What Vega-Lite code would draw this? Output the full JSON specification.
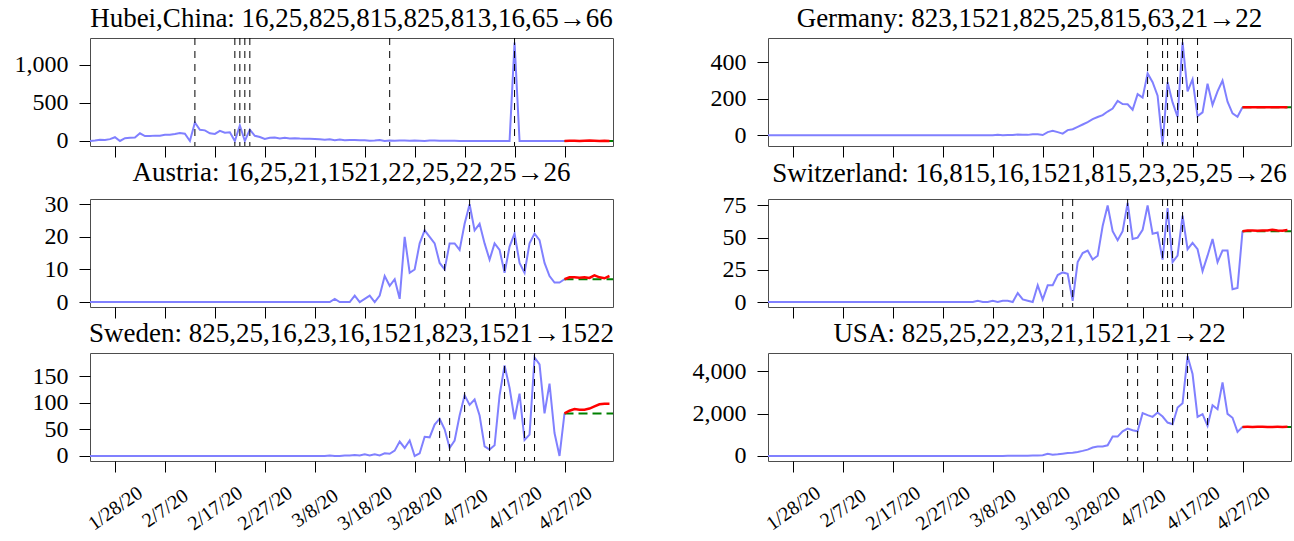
{
"$schema": "https://vega.github.io/schema/vega-lite/v6.json",
"padding": {"left": 13, "top": 4, "right": 5, "bottom": 5},
"background": "white",
"columns": 2,
"spacing": {"row": 0, "column": 76},
"config": {
  "font": "Liberation Serif",
  "view": {"stroke": "#4d4d4d", "strokeWidth": 1},
  "axis": {"domain": false, "grid": false, "labelFont": "Liberation Serif", "labelFontSize": 24, "labelColor": "black", "tickColor": "black", "tickWidth": 1, "labelOverlap": false, "labelFlush": false, "labelBound": false},
  "title": {"font": "Liberation Serif", "fontSize": 27, "fontWeight": "normal", "color": "black", "offset": 5}
},
"datasets": {
"daily": [
{"date":"2020-01-23","Hubei":0,"Germany":0,"Austria":0,"Switzerland":0,"Sweden":0,"USA":0},
{"date":"2020-01-24","Hubei":7,"Germany":0,"Austria":0,"Switzerland":0,"Sweden":0,"USA":0},
{"date":"2020-01-25","Hubei":16,"Germany":0,"Austria":0,"Switzerland":0,"Sweden":0,"USA":0},
{"date":"2020-01-26","Hubei":12,"Germany":0,"Austria":0,"Switzerland":0,"Sweden":0,"USA":0},
{"date":"2020-01-27","Hubei":24,"Germany":0,"Austria":0,"Switzerland":0,"Sweden":0,"USA":0},
{"date":"2020-01-28","Hubei":49,"Germany":0,"Austria":0,"Switzerland":0,"Sweden":0,"USA":0},
{"date":"2020-01-29","Hubei":0,"Germany":0,"Austria":0,"Switzerland":0,"Sweden":0,"USA":0},
{"date":"2020-01-30","Hubei":37,"Germany":0,"Austria":0,"Switzerland":0,"Sweden":0,"USA":0},
{"date":"2020-01-31","Hubei":42,"Germany":0,"Austria":0,"Switzerland":0,"Sweden":0,"USA":0},
{"date":"2020-02-01","Hubei":45,"Germany":0,"Austria":0,"Switzerland":0,"Sweden":0,"USA":0},
{"date":"2020-02-02","Hubei":101,"Germany":0,"Austria":0,"Switzerland":0,"Sweden":0,"USA":0},
{"date":"2020-02-03","Hubei":64,"Germany":0,"Austria":0,"Switzerland":0,"Sweden":0,"USA":0},
{"date":"2020-02-04","Hubei":65,"Germany":0,"Austria":0,"Switzerland":0,"Sweden":0,"USA":0},
{"date":"2020-02-05","Hubei":70,"Germany":0,"Austria":0,"Switzerland":0,"Sweden":0,"USA":0},
{"date":"2020-02-06","Hubei":69,"Germany":0,"Austria":0,"Switzerland":0,"Sweden":0,"USA":0},
{"date":"2020-02-07","Hubei":81,"Germany":0,"Austria":0,"Switzerland":0,"Sweden":0,"USA":0},
{"date":"2020-02-08","Hubei":81,"Germany":0,"Austria":0,"Switzerland":0,"Sweden":0,"USA":0},
{"date":"2020-02-09","Hubei":91,"Germany":0,"Austria":0,"Switzerland":0,"Sweden":0,"USA":0},
{"date":"2020-02-10","Hubei":103,"Germany":0,"Austria":0,"Switzerland":0,"Sweden":0,"USA":0},
{"date":"2020-02-11","Hubei":94,"Germany":0,"Austria":0,"Switzerland":0,"Sweden":0,"USA":0},
{"date":"2020-02-12","Hubei":0,"Germany":0,"Austria":0,"Switzerland":0,"Sweden":0,"USA":0},
{"date":"2020-02-13","Hubei":242,"Germany":0,"Austria":0,"Switzerland":0,"Sweden":0,"USA":0},
{"date":"2020-02-14","Hubei":147,"Germany":0,"Austria":0,"Switzerland":0,"Sweden":0,"USA":0},
{"date":"2020-02-15","Hubei":139,"Germany":0,"Austria":0,"Switzerland":0,"Sweden":0,"USA":0},
{"date":"2020-02-16","Hubei":100,"Germany":0,"Austria":0,"Switzerland":0,"Sweden":0,"USA":0},
{"date":"2020-02-17","Hubei":93,"Germany":0,"Austria":0,"Switzerland":0,"Sweden":0,"USA":0},
{"date":"2020-02-18","Hubei":132,"Germany":0,"Austria":0,"Switzerland":0,"Sweden":0,"USA":0},
{"date":"2020-02-19","Hubei":108,"Germany":0,"Austria":0,"Switzerland":0,"Sweden":0,"USA":0},
{"date":"2020-02-20","Hubei":115,"Germany":0,"Austria":0,"Switzerland":0,"Sweden":0,"USA":0},
{"date":"2020-02-21","Hubei":0,"Germany":0,"Austria":0,"Switzerland":0,"Sweden":0,"USA":0},
{"date":"2020-02-22","Hubei":202,"Germany":0,"Austria":0,"Switzerland":0,"Sweden":0,"USA":0},
{"date":"2020-02-23","Hubei":0,"Germany":0,"Austria":0,"Switzerland":0,"Sweden":0,"USA":0},
{"date":"2020-02-24","Hubei":149,"Germany":0,"Austria":0,"Switzerland":0,"Sweden":0,"USA":0},
{"date":"2020-02-25","Hubei":68,"Germany":0,"Austria":0,"Switzerland":0,"Sweden":0,"USA":0},
{"date":"2020-02-26","Hubei":52,"Germany":0,"Austria":0,"Switzerland":0,"Sweden":0,"USA":0},
{"date":"2020-02-27","Hubei":26,"Germany":0,"Austria":0,"Switzerland":0,"Sweden":0,"USA":0},
{"date":"2020-02-28","Hubei":41,"Germany":0,"Austria":0,"Switzerland":0,"Sweden":0,"USA":0},
{"date":"2020-02-29","Hubei":45,"Germany":0,"Austria":0,"Switzerland":0,"Sweden":0,"USA":1},
{"date":"2020-03-01","Hubei":34,"Germany":0,"Austria":0,"Switzerland":0,"Sweden":0,"USA":1},
{"date":"2020-03-02","Hubei":42,"Germany":0,"Austria":0,"Switzerland":0,"Sweden":0,"USA":4},
{"date":"2020-03-03","Hubei":32,"Germany":0,"Austria":0,"Switzerland":0,"Sweden":0,"USA":3},
{"date":"2020-03-04","Hubei":36,"Germany":0,"Austria":0,"Switzerland":0,"Sweden":0,"USA":2},
{"date":"2020-03-05","Hubei":31,"Germany":0,"Austria":0,"Switzerland":1,"Sweden":0,"USA":1},
{"date":"2020-03-06","Hubei":29,"Germany":0,"Austria":0,"Switzerland":0,"Sweden":0,"USA":3},
{"date":"2020-03-07","Hubei":28,"Germany":0,"Austria":0,"Switzerland":0,"Sweden":0,"USA":4},
{"date":"2020-03-08","Hubei":27,"Germany":0,"Austria":0,"Switzerland":1,"Sweden":0,"USA":3},
{"date":"2020-03-09","Hubei":22,"Germany":2,"Austria":0,"Switzerland":0,"Sweden":0,"USA":4},
{"date":"2020-03-10","Hubei":16,"Germany":0,"Austria":0,"Switzerland":1,"Sweden":0,"USA":5},
{"date":"2020-03-11","Hubei":22,"Germany":1,"Austria":0,"Switzerland":1,"Sweden":1,"USA":8},
{"date":"2020-03-12","Hubei":10,"Germany":1,"Austria":1,"Switzerland":0,"Sweden":0,"USA":7},
{"date":"2020-03-13","Hubei":19,"Germany":4,"Austria":0,"Switzerland":7,"Sweden":0,"USA":10},
{"date":"2020-03-14","Hubei":10,"Germany":2,"Austria":0,"Switzerland":2,"Sweden":1,"USA":12},
{"date":"2020-03-15","Hubei":14,"Germany":2,"Austria":0,"Switzerland":1,"Sweden":1,"USA":11},
{"date":"2020-03-16","Hubei":12,"Germany":5,"Austria":2,"Switzerland":0,"Sweden":2,"USA":25},
{"date":"2020-03-17","Hubei":11,"Germany":5,"Austria":0,"Switzerland":13,"Sweden":1,"USA":23},
{"date":"2020-03-18","Hubei":8,"Germany":1,"Austria":1,"Switzerland":2,"Sweden":3,"USA":35},
{"date":"2020-03-19","Hubei":3,"Germany":17,"Austria":2,"Switzerland":13,"Sweden":1,"USA":100},
{"date":"2020-03-20","Hubei":6,"Germany":24,"Austria":0,"Switzerland":13,"Sweden":3,"USA":60},
{"date":"2020-03-21","Hubei":14,"Germany":17,"Austria":2,"Switzerland":21,"Sweden":1,"USA":80},
{"date":"2020-03-22","Hubei":0,"Germany":9,"Austria":8,"Switzerland":23,"Sweden":5,"USA":110},
{"date":"2020-03-23","Hubei":7,"Germany":28,"Austria":5,"Switzerland":22,"Sweden":4,"USA":140},
{"date":"2020-03-24","Hubei":3,"Germany":33,"Austria":7,"Switzerland":1,"Sweden":10,"USA":150},
{"date":"2020-03-25","Hubei":6,"Germany":46,"Austria":1,"Switzerland":31,"Sweden":27,"USA":190},
{"date":"2020-03-26","Hubei":5,"Germany":59,"Austria":20,"Switzerland":38,"Sweden":15,"USA":240},
{"date":"2020-03-27","Hubei":3,"Germany":72,"Austria":9,"Switzerland":40,"Sweden":29,"USA":300},
{"date":"2020-03-28","Hubei":5,"Germany":88,"Austria":10,"Switzerland":33,"Sweden":0,"USA":400},
{"date":"2020-03-29","Hubei":4,"Germany":100,"Austria":18,"Switzerland":36,"Sweden":5,"USA":450},
{"date":"2020-03-30","Hubei":1,"Germany":110,"Austria":22,"Switzerland":59,"Sweden":36,"USA":450},
{"date":"2020-03-31","Hubei":6,"Germany":130,"Austria":20,"Switzerland":75,"Sweden":35,"USA":504},
{"date":"2020-04-01","Hubei":6,"Germany":146,"Austria":18,"Switzerland":55,"Sweden":59,"USA":913},
{"date":"2020-04-02","Hubei":4,"Germany":188,"Austria":12,"Switzerland":48,"Sweden":70,"USA":913},
{"date":"2020-04-03","Hubei":4,"Germany":171,"Austria":10,"Switzerland":55,"Sweden":50,"USA":1165},
{"date":"2020-04-04","Hubei":3,"Germany":170,"Austria":18,"Switzerland":77,"Sweden":15,"USA":1291},
{"date":"2020-04-05","Hubei":2,"Germany":140,"Austria":18,"Switzerland":49,"Sweden":29,"USA":1213},
{"date":"2020-04-06","Hubei":0,"Germany":225,"Austria":16,"Switzerland":50,"Sweden":76,"USA":1165},
{"date":"2020-04-07","Hubei":0,"Germany":206,"Austria":24,"Switzerland":56,"Sweden":114,"USA":2016},
{"date":"2020-04-08","Hubei":0,"Germany":339,"Austria":30,"Switzerland":75,"Sweden":96,"USA":1922},
{"date":"2020-04-09","Hubei":1,"Germany":291,"Austria":22,"Switzerland":53,"Sweden":106,"USA":1843},
{"date":"2020-04-10","Hubei":1,"Germany":217,"Austria":24,"Switzerland":54,"Sweden":76,"USA":2047},
{"date":"2020-04-11","Hubei":1,"Germany":-50,"Austria":18,"Switzerland":33,"Sweden":18,"USA":1858},
{"date":"2020-04-12","Hubei":1,"Germany":291,"Austria":13,"Switzerland":73,"Sweden":12,"USA":1575},
{"date":"2020-04-13","Hubei":1,"Germany":180,"Austria":18,"Switzerland":31,"Sweden":20,"USA":1496},
{"date":"2020-04-14","Hubei":1,"Germany":101,"Austria":16,"Switzerland":36,"Sweden":114,"USA":2283},
{"date":"2020-04-15","Hubei":0,"Germany":509,"Austria":9,"Switzerland":67,"Sweden":170,"USA":2488},
{"date":"2020-04-16","Hubei":1,"Germany":240,"Austria":17,"Switzerland":41,"Sweden":128,"USA":4700},
{"date":"2020-04-17","Hubei":1290,"Germany":306,"Austria":21,"Switzerland":46,"Sweden":69,"USA":3858},
{"date":"2020-04-18","Hubei":0,"Germany":105,"Austria":12,"Switzerland":41,"Sweden":117,"USA":1843},
{"date":"2020-04-19","Hubei":0,"Germany":125,"Austria":9,"Switzerland":24,"Sweden":30,"USA":1969},
{"date":"2020-04-20","Hubei":0,"Germany":282,"Austria":18,"Switzerland":36,"Sweden":40,"USA":1417},
{"date":"2020-04-21","Hubei":0,"Germany":166,"Austria":21,"Switzerland":49,"Sweden":185,"USA":2394},
{"date":"2020-04-22","Hubei":0,"Germany":240,"Austria":19,"Switzerland":31,"Sweden":172,"USA":2205},
{"date":"2020-04-23","Hubei":0,"Germany":300,"Austria":12,"Switzerland":40,"Sweden":80,"USA":3465},
{"date":"2020-04-24","Hubei":0,"Germany":184,"Austria":8,"Switzerland":40,"Sweden":136,"USA":1985},
{"date":"2020-04-25","Hubei":0,"Germany":120,"Austria":6,"Switzerland":10,"Sweden":43,"USA":1800},
{"date":"2020-04-26","Hubei":0,"Germany":101,"Austria":6,"Switzerland":11,"Sweden":0,"USA":1134},
{"date":"2020-04-27","Hubei":0,"Germany":153,"Austria":7,"Switzerland":55,"Sweden":80,"USA":1370}
],
"forecast": [
{"date":"2020-04-27","Hubei":0,"Germany":153,"Austria":7,"Switzerland":55,"Sweden":80,"USA":1370},
{"date":"2020-04-28","Hubei":2,"Germany":154,"Austria":7.6,"Switzerland":55.5,"Sweden":85,"USA":1372},
{"date":"2020-04-29","Hubei":2,"Germany":154,"Austria":7.6,"Switzerland":55.6,"Sweden":88,"USA":1371},
{"date":"2020-04-30","Hubei":1,"Germany":153,"Austria":7.5,"Switzerland":55.3,"Sweden":87,"USA":1373},
{"date":"2020-05-01","Hubei":3,"Germany":154,"Austria":7.6,"Switzerland":55.5,"Sweden":87,"USA":1372},
{"date":"2020-05-02","Hubei":5,"Germany":153,"Austria":7.4,"Switzerland":55.6,"Sweden":89,"USA":1370},
{"date":"2020-05-03","Hubei":3,"Germany":154,"Austria":8.2,"Switzerland":56.2,"Sweden":93,"USA":1371},
{"date":"2020-05-04","Hubei":1,"Germany":154,"Austria":7.6,"Switzerland":55.5,"Sweden":97,"USA":1372},
{"date":"2020-05-05","Hubei":2,"Germany":153,"Austria":7.3,"Switzerland":55.4,"Sweden":98,"USA":1371},
{"date":"2020-05-06","Hubei":1,"Germany":154,"Austria":8.0,"Switzerland":56,"Sweden":98,"USA":1372}
],
"base": [
{"country":"Hubei","date":"2020-04-27","end":"2020-05-08","value":0},
{"country":"Germany","date":"2020-04-27","end":"2020-05-08","value":153},
{"country":"Austria","date":"2020-04-27","end":"2020-05-08","value":7},
{"country":"Switzerland","date":"2020-04-27","end":"2020-05-08","value":55},
{"country":"Sweden","date":"2020-04-27","end":"2020-05-08","value":80},
{"country":"USA","date":"2020-04-27","end":"2020-05-08","value":1370}
],
"breaks": [
{"country":"Hubei","date":"2020-02-13"},{"country":"Hubei","date":"2020-02-21"},{"country":"Hubei","date":"2020-02-22"},{"country":"Hubei","date":"2020-02-23"},{"country":"Hubei","date":"2020-02-24"},{"country":"Hubei","date":"2020-03-23"},{"country":"Hubei","date":"2020-04-17"},
{"country":"Germany","date":"2020-04-08"},{"country":"Germany","date":"2020-04-11"},{"country":"Germany","date":"2020-04-12"},{"country":"Germany","date":"2020-04-14"},{"country":"Germany","date":"2020-04-15"},{"country":"Germany","date":"2020-04-18"},
{"country":"Austria","date":"2020-03-30"},{"country":"Austria","date":"2020-04-03"},{"country":"Austria","date":"2020-04-08"},{"country":"Austria","date":"2020-04-15"},{"country":"Austria","date":"2020-04-17"},{"country":"Austria","date":"2020-04-19"},{"country":"Austria","date":"2020-04-21"},
{"country":"Switzerland","date":"2020-03-22"},{"country":"Switzerland","date":"2020-03-24"},{"country":"Switzerland","date":"2020-04-04"},{"country":"Switzerland","date":"2020-04-11"},{"country":"Switzerland","date":"2020-04-12"},{"country":"Switzerland","date":"2020-04-13"},{"country":"Switzerland","date":"2020-04-15"},
{"country":"Sweden","date":"2020-04-02"},{"country":"Sweden","date":"2020-04-04"},{"country":"Sweden","date":"2020-04-07"},{"country":"Sweden","date":"2020-04-12"},{"country":"Sweden","date":"2020-04-15"},{"country":"Sweden","date":"2020-04-19"},{"country":"Sweden","date":"2020-04-21"},
{"country":"USA","date":"2020-04-04"},{"country":"USA","date":"2020-04-06"},{"country":"USA","date":"2020-04-10"},{"country":"USA","date":"2020-04-13"},{"country":"USA","date":"2020-04-16"},{"country":"USA","date":"2020-04-20"}
]
},
"concat": [
{
 "width": 523, "height": 108,
 "title": "Hubei,China: 16,25,825,815,825,813,16,65→66",
 "encoding": {"x": {"field": "date", "type": "temporal", "title": null, "scale": {"type": "utc", "domain": [{"year": 2020, "month": 1, "date": 23, "utc": true}, {"year": 2020, "month": 5, "date": 6, "hours": 17, "utc": true}]}, "axis": {"values": [{"year":2020,"month":1,"date":28,"utc":true},{"year":2020,"month":2,"date":7,"utc":true},{"year":2020,"month":2,"date":17,"utc":true},{"year":2020,"month":2,"date":27,"utc":true},{"year":2020,"month":3,"date":8,"utc":true},{"year":2020,"month":3,"date":18,"utc":true},{"year":2020,"month":3,"date":28,"utc":true},{"year":2020,"month":4,"date":7,"utc":true},{"year":2020,"month":4,"date":17,"utc":true},{"year":2020,"month":4,"date":27,"utc":true}], "labels": false, "tickSize": 11}}},
 "layer": [
  {"data": {"name": "daily"}, "mark": {"type": "line", "color": "#8080ff", "strokeWidth": 2, "clip": true}, "encoding": {"y": {"field": "Hubei", "type": "quantitative", "title": null, "scale": {"domain": [-66, 1350], "nice": false, "zero": false}, "axis": {"values": [0, 500, 1000], "labelExpr": "format(datum.value, ',')", "tickSize": 11, "labelPadding": 11}}}},
  {"data": {"name": "base"}, "transform": [{"filter": {"field": "country", "equal": "Hubei"}}], "mark": {"type": "rule", "color": "#008000", "strokeDash": [9, 5], "strokeWidth": 2, "clip": true}, "encoding": {"x2": {"field": "end"}, "y": {"field": "value", "type": "quantitative", "title": null, "scale": {"domain": [-66, 1350], "nice": false, "zero": false}, "axis": {"values": [0, 500, 1000], "labelExpr": "format(datum.value, ',')", "tickSize": 11, "labelPadding": 11}}}},
  {"data": {"name": "forecast"}, "mark": {"type": "line", "color": "#ff0000", "strokeWidth": 2.5, "clip": true}, "encoding": {"y": {"field": "Hubei", "type": "quantitative", "title": null, "scale": {"domain": [-66, 1350], "nice": false, "zero": false}, "axis": {"values": [0, 500, 1000], "labelExpr": "format(datum.value, ',')", "tickSize": 11, "labelPadding": 11}}}},
  {"data": {"name": "breaks"}, "transform": [{"filter": {"field": "country", "equal": "Hubei"}}], "mark": {"type": "rule", "color": "black", "strokeDash": [7, 6], "strokeWidth": 1}, "encoding": {}}
 ]
},
{
 "width": 523, "height": 108,
 "title": "Germany: 823,1521,825,25,815,63,21→22",
 "encoding": {"x": {"field": "date", "type": "temporal", "title": null, "scale": {"type": "utc", "domain": [{"year": 2020, "month": 1, "date": 23, "utc": true}, {"year": 2020, "month": 5, "date": 6, "hours": 17, "utc": true}]}, "axis": {"values": [{"year":2020,"month":1,"date":28,"utc":true},{"year":2020,"month":2,"date":7,"utc":true},{"year":2020,"month":2,"date":17,"utc":true},{"year":2020,"month":2,"date":27,"utc":true},{"year":2020,"month":3,"date":8,"utc":true},{"year":2020,"month":3,"date":18,"utc":true},{"year":2020,"month":3,"date":28,"utc":true},{"year":2020,"month":4,"date":7,"utc":true},{"year":2020,"month":4,"date":17,"utc":true},{"year":2020,"month":4,"date":27,"utc":true}], "labels": false, "tickSize": 11}}},
 "layer": [
  {"data": {"name": "daily"}, "mark": {"type": "line", "color": "#8080ff", "strokeWidth": 2, "clip": true}, "encoding": {"y": {"field": "Germany", "type": "quantitative", "title": null, "scale": {"domain": [-59, 533], "nice": false, "zero": false}, "axis": {"values": [0, 200, 400], "labelExpr": "format(datum.value, ',')", "tickSize": 11, "labelPadding": 11}}}},
  {"data": {"name": "base"}, "transform": [{"filter": {"field": "country", "equal": "Germany"}}], "mark": {"type": "rule", "color": "#008000", "strokeDash": [9, 5], "strokeWidth": 2, "clip": true}, "encoding": {"x2": {"field": "end"}, "y": {"field": "value", "type": "quantitative", "title": null, "scale": {"domain": [-59, 533], "nice": false, "zero": false}, "axis": {"values": [0, 200, 400], "labelExpr": "format(datum.value, ',')", "tickSize": 11, "labelPadding": 11}}}},
  {"data": {"name": "forecast"}, "mark": {"type": "line", "color": "#ff0000", "strokeWidth": 2.5, "clip": true}, "encoding": {"y": {"field": "Germany", "type": "quantitative", "title": null, "scale": {"domain": [-59, 533], "nice": false, "zero": false}, "axis": {"values": [0, 200, 400], "labelExpr": "format(datum.value, ',')", "tickSize": 11, "labelPadding": 11}}}},
  {"data": {"name": "breaks"}, "transform": [{"filter": {"field": "country", "equal": "Germany"}}], "mark": {"type": "rule", "color": "black", "strokeDash": [7, 6], "strokeWidth": 1}, "encoding": {}}
 ]
},
{
 "width": 523, "height": 108,
 "title": "Austria: 16,25,21,1521,22,25,22,25→26",
 "encoding": {"x": {"field": "date", "type": "temporal", "title": null, "scale": {"type": "utc", "domain": [{"year": 2020, "month": 1, "date": 23, "utc": true}, {"year": 2020, "month": 5, "date": 6, "hours": 17, "utc": true}]}, "axis": {"values": [{"year":2020,"month":1,"date":28,"utc":true},{"year":2020,"month":2,"date":7,"utc":true},{"year":2020,"month":2,"date":17,"utc":true},{"year":2020,"month":2,"date":27,"utc":true},{"year":2020,"month":3,"date":8,"utc":true},{"year":2020,"month":3,"date":18,"utc":true},{"year":2020,"month":3,"date":28,"utc":true},{"year":2020,"month":4,"date":7,"utc":true},{"year":2020,"month":4,"date":17,"utc":true},{"year":2020,"month":4,"date":27,"utc":true}], "labels": false, "tickSize": 11}}},
 "layer": [
  {"data": {"name": "daily"}, "mark": {"type": "line", "color": "#8080ff", "strokeWidth": 2, "clip": true}, "encoding": {"y": {"field": "Austria", "type": "quantitative", "title": null, "scale": {"domain": [-1.5, 31.6], "nice": false, "zero": false}, "axis": {"values": [0, 10, 20, 30], "labelExpr": "format(datum.value, ',')", "tickSize": 11, "labelPadding": 11}}}},
  {"data": {"name": "base"}, "transform": [{"filter": {"field": "country", "equal": "Austria"}}], "mark": {"type": "rule", "color": "#008000", "strokeDash": [9, 5], "strokeWidth": 2, "clip": true}, "encoding": {"x2": {"field": "end"}, "y": {"field": "value", "type": "quantitative", "title": null, "scale": {"domain": [-1.5, 31.6], "nice": false, "zero": false}, "axis": {"values": [0, 10, 20, 30], "labelExpr": "format(datum.value, ',')", "tickSize": 11, "labelPadding": 11}}}},
  {"data": {"name": "forecast"}, "mark": {"type": "line", "color": "#ff0000", "strokeWidth": 2.5, "clip": true}, "encoding": {"y": {"field": "Austria", "type": "quantitative", "title": null, "scale": {"domain": [-1.5, 31.6], "nice": false, "zero": false}, "axis": {"values": [0, 10, 20, 30], "labelExpr": "format(datum.value, ',')", "tickSize": 11, "labelPadding": 11}}}},
  {"data": {"name": "breaks"}, "transform": [{"filter": {"field": "country", "equal": "Austria"}}], "mark": {"type": "rule", "color": "black", "strokeDash": [7, 6], "strokeWidth": 1}, "encoding": {}}
 ]
},
{
 "width": 523, "height": 108,
 "title": "Switzerland: 16,815,16,1521,815,23,25,25→26",
 "encoding": {"x": {"field": "date", "type": "temporal", "title": null, "scale": {"type": "utc", "domain": [{"year": 2020, "month": 1, "date": 23, "utc": true}, {"year": 2020, "month": 5, "date": 6, "hours": 17, "utc": true}]}, "axis": {"values": [{"year":2020,"month":1,"date":28,"utc":true},{"year":2020,"month":2,"date":7,"utc":true},{"year":2020,"month":2,"date":17,"utc":true},{"year":2020,"month":2,"date":27,"utc":true},{"year":2020,"month":3,"date":8,"utc":true},{"year":2020,"month":3,"date":18,"utc":true},{"year":2020,"month":3,"date":28,"utc":true},{"year":2020,"month":4,"date":7,"utc":true},{"year":2020,"month":4,"date":17,"utc":true},{"year":2020,"month":4,"date":27,"utc":true}], "labels": false, "tickSize": 11}}},
 "layer": [
  {"data": {"name": "daily"}, "mark": {"type": "line", "color": "#8080ff", "strokeWidth": 2, "clip": true}, "encoding": {"y": {"field": "Switzerland", "type": "quantitative", "title": null, "scale": {"domain": [-3.85, 80], "nice": false, "zero": false}, "axis": {"values": [0, 25, 50, 75], "labelExpr": "format(datum.value, ',')", "tickSize": 11, "labelPadding": 11}}}},
  {"data": {"name": "base"}, "transform": [{"filter": {"field": "country", "equal": "Switzerland"}}], "mark": {"type": "rule", "color": "#008000", "strokeDash": [9, 5], "strokeWidth": 2, "clip": true}, "encoding": {"x2": {"field": "end"}, "y": {"field": "value", "type": "quantitative", "title": null, "scale": {"domain": [-3.85, 80], "nice": false, "zero": false}, "axis": {"values": [0, 25, 50, 75], "labelExpr": "format(datum.value, ',')", "tickSize": 11, "labelPadding": 11}}}},
  {"data": {"name": "forecast"}, "mark": {"type": "line", "color": "#ff0000", "strokeWidth": 2.5, "clip": true}, "encoding": {"y": {"field": "Switzerland", "type": "quantitative", "title": null, "scale": {"domain": [-3.85, 80], "nice": false, "zero": false}, "axis": {"values": [0, 25, 50, 75], "labelExpr": "format(datum.value, ',')", "tickSize": 11, "labelPadding": 11}}}},
  {"data": {"name": "breaks"}, "transform": [{"filter": {"field": "country", "equal": "Switzerland"}}], "mark": {"type": "rule", "color": "black", "strokeDash": [7, 6], "strokeWidth": 1}, "encoding": {}}
 ]
},
{
 "width": 523, "height": 108,
 "title": "Sweden: 825,25,16,23,16,1521,823,1521→1522",
 "encoding": {"x": {"field": "date", "type": "temporal", "title": null, "scale": {"type": "utc", "domain": [{"year": 2020, "month": 1, "date": 23, "utc": true}, {"year": 2020, "month": 5, "date": 6, "hours": 17, "utc": true}]}, "axis": {"values": [{"year":2020,"month":1,"date":28,"utc":true},{"year":2020,"month":2,"date":7,"utc":true},{"year":2020,"month":2,"date":17,"utc":true},{"year":2020,"month":2,"date":27,"utc":true},{"year":2020,"month":3,"date":8,"utc":true},{"year":2020,"month":3,"date":18,"utc":true},{"year":2020,"month":3,"date":28,"utc":true},{"year":2020,"month":4,"date":7,"utc":true},{"year":2020,"month":4,"date":17,"utc":true},{"year":2020,"month":4,"date":27,"utc":true}], "format": "%-m/%-d/%y", "labelAngle": -35, "labelAlign": "center", "labelBaseline": "middle", "labelPadding": 36, "labelFontSize": 20, "tickSize": 11}}},
 "layer": [
  {"data": {"name": "daily"}, "mark": {"type": "line", "color": "#8080ff", "strokeWidth": 2, "clip": true}, "encoding": {"y": {"field": "Sweden", "type": "quantitative", "title": null, "scale": {"domain": [-9.5, 193.5], "nice": false, "zero": false}, "axis": {"values": [0, 50, 100, 150], "labelExpr": "format(datum.value, ',')", "tickSize": 11, "labelPadding": 11}}}},
  {"data": {"name": "base"}, "transform": [{"filter": {"field": "country", "equal": "Sweden"}}], "mark": {"type": "rule", "color": "#008000", "strokeDash": [9, 5], "strokeWidth": 2, "clip": true}, "encoding": {"x2": {"field": "end"}, "y": {"field": "value", "type": "quantitative", "title": null, "scale": {"domain": [-9.5, 193.5], "nice": false, "zero": false}, "axis": {"values": [0, 50, 100, 150], "labelExpr": "format(datum.value, ',')", "tickSize": 11, "labelPadding": 11}}}},
  {"data": {"name": "forecast"}, "mark": {"type": "line", "color": "#ff0000", "strokeWidth": 2.5, "clip": true}, "encoding": {"y": {"field": "Sweden", "type": "quantitative", "title": null, "scale": {"domain": [-9.5, 193.5], "nice": false, "zero": false}, "axis": {"values": [0, 50, 100, 150], "labelExpr": "format(datum.value, ',')", "tickSize": 11, "labelPadding": 11}}}},
  {"data": {"name": "breaks"}, "transform": [{"filter": {"field": "country", "equal": "Sweden"}}], "mark": {"type": "rule", "color": "black", "strokeDash": [7, 6], "strokeWidth": 1}, "encoding": {}}
 ]
},
{
 "width": 523, "height": 108,
 "title": "USA: 825,25,22,23,21,1521,21→22",
 "encoding": {"x": {"field": "date", "type": "temporal", "title": null, "scale": {"type": "utc", "domain": [{"year": 2020, "month": 1, "date": 23, "utc": true}, {"year": 2020, "month": 5, "date": 6, "hours": 17, "utc": true}]}, "axis": {"values": [{"year":2020,"month":1,"date":28,"utc":true},{"year":2020,"month":2,"date":7,"utc":true},{"year":2020,"month":2,"date":17,"utc":true},{"year":2020,"month":2,"date":27,"utc":true},{"year":2020,"month":3,"date":8,"utc":true},{"year":2020,"month":3,"date":18,"utc":true},{"year":2020,"month":3,"date":28,"utc":true},{"year":2020,"month":4,"date":7,"utc":true},{"year":2020,"month":4,"date":17,"utc":true},{"year":2020,"month":4,"date":27,"utc":true}], "format": "%-m/%-d/%y", "labelAngle": -35, "labelAlign": "center", "labelBaseline": "middle", "labelPadding": 36, "labelFontSize": 20, "tickSize": 11}}},
 "layer": [
  {"data": {"name": "daily"}, "mark": {"type": "line", "color": "#8080ff", "strokeWidth": 2, "clip": true}, "encoding": {"y": {"field": "USA", "type": "quantitative", "title": null, "scale": {"domain": [-236, 4850], "nice": false, "zero": false}, "axis": {"values": [0, 2000, 4000], "labelExpr": "format(datum.value, ',')", "tickSize": 11, "labelPadding": 11}}}},
  {"data": {"name": "base"}, "transform": [{"filter": {"field": "country", "equal": "USA"}}], "mark": {"type": "rule", "color": "#008000", "strokeDash": [9, 5], "strokeWidth": 2, "clip": true}, "encoding": {"x2": {"field": "end"}, "y": {"field": "value", "type": "quantitative", "title": null, "scale": {"domain": [-236, 4850], "nice": false, "zero": false}, "axis": {"values": [0, 2000, 4000], "labelExpr": "format(datum.value, ',')", "tickSize": 11, "labelPadding": 11}}}},
  {"data": {"name": "forecast"}, "mark": {"type": "line", "color": "#ff0000", "strokeWidth": 2.5, "clip": true}, "encoding": {"y": {"field": "USA", "type": "quantitative", "title": null, "scale": {"domain": [-236, 4850], "nice": false, "zero": false}, "axis": {"values": [0, 2000, 4000], "labelExpr": "format(datum.value, ',')", "tickSize": 11, "labelPadding": 11}}}},
  {"data": {"name": "breaks"}, "transform": [{"filter": {"field": "country", "equal": "USA"}}], "mark": {"type": "rule", "color": "black", "strokeDash": [7, 6], "strokeWidth": 1}, "encoding": {}}
 ]
}
]
}
